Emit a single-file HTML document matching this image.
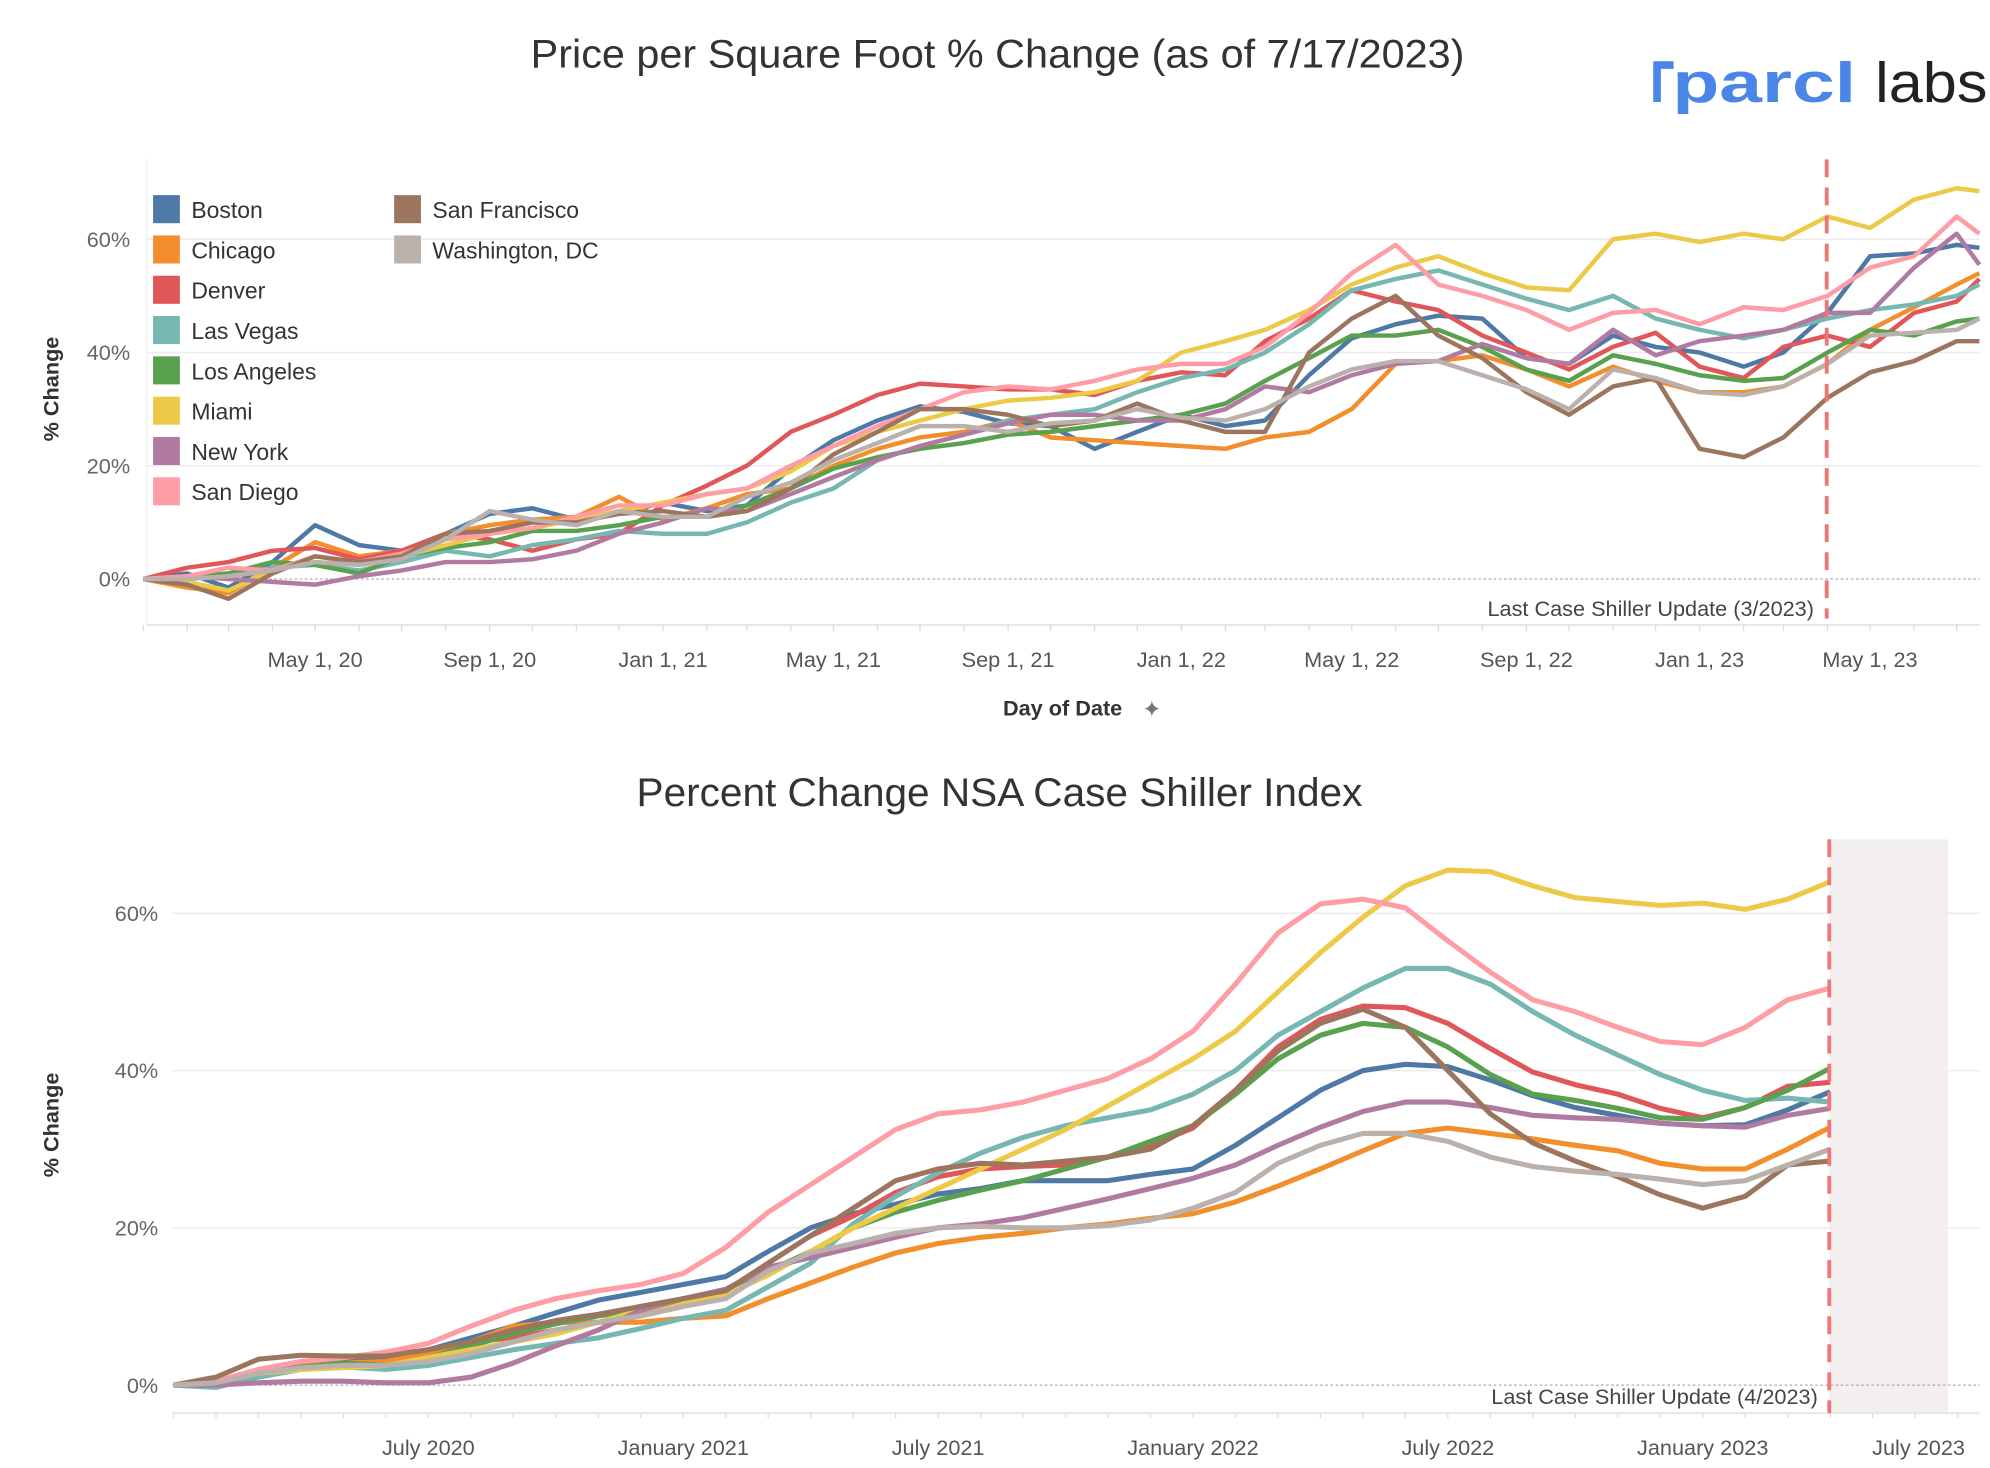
<!DOCTYPE html>
<html><head><meta charset="utf-8"><style>
html,body{margin:0;padding:0;background:#fff;}
svg{display:block;font-family:"Liberation Sans",sans-serif;}
</style></head><body>
<svg id="root" width="1990" height="1468" viewBox="0 0 1560 1151" preserveAspectRatio="none" xmlns="http://www.w3.org/2000/svg">
<rect x="0" y="0" width="1560" height="1151" fill="#fff"/>
<text x="416" y="53" textLength="732" lengthAdjust="spacingAndGlyphs" font-size="31" fill="#333">Price per Square Foot % Change (as of 7/17/2023)</text>
<g>
<path d="M1296 48 h16 v6 h-10 v26 h-6 z" fill="#4a86e8"/>
<text x="1311" y="80" font-size="44" font-weight="bold" fill="#4a86e8" textLength="144" lengthAdjust="spacingAndGlyphs">parcl</text>
<text x="1470" y="80" font-size="44" fill="#222" textLength="88" lengthAdjust="spacingAndGlyphs">labs</text>
</g>
<g id="topChart"></g>
<text x="499" y="632" textLength="569" lengthAdjust="spacingAndGlyphs" font-size="31" fill="#333">Percent Change NSA Case Shiller Index</text>
<g id="botChart"></g>
</svg>
<script>
const cities = ["Boston","Chicago","Denver","Las Vegas","Los Angeles","Miami","New York","San Diego","San Francisco","Washington, DC"];
const colors = ["#4e79a7","#f28e2b","#e15759","#76b7b2","#59a14f","#edc948","#b07aa1","#ff9da7","#9c755f","#bab0ac"];
// Top chart: monthly samples Jan 2020 .. Jul 2023 plus Jul 17 2023
const topBoston = [0,1,-1.5,3,9.5,6,5,8,11.5,12.5,10.5,11.5, 13.5,12,13,19.5,24.5,28,30.5,29.5,27.5,27,23,26, 29,27,28,36,42.5,45,46.5,46,39,38,43,41, 40,37.5,40,47,57,57.5,59,58.5];
const topChicago = [0,-1.5,-2.5,2,6.5,4,5,8,9.5,10.5,11,14.5, 10.5,12.5,15,16,20,23,25,26,28,25,24.5,24, 23.5,23,25,26,30,38,38.5,39.5,37,34,37.5,35, 33,33,34,38,44,48,52,54];
const topDenver = [0,2,3,5,5.5,3.5,5,8,7,5,7,8, 13,16.5,20,26,29,32.5,34.5,34,33.5,33.5,32.5,35, 36.5,36,42,46,51,49,47.5,43,40,37,41,43.5, 37.5,35.5,41,43,41,47,49,53];
const topLasVegas = [0,0,0.5,2,2.5,1.5,3,5,4,6,7,8.5, 8,8,10,13.5,16,21,23.5,25.5,28,29,30,33, 35.5,37,40,45,51,53,54.5,52,49.5,47.5,50,46, 44,42.5,44,46,47.5,48.5,50,52];
const topLosAngeles = [0,0.5,1,3,2.5,1,4,5.5,6.5,8.5,8.5,9.5, 11,11,13,16,19.5,21.5,23,24,25.5,26,27,28, 29,31,35,39,43,43,44,41,37,35,39.5,38, 36,35,35.5,40,44,43,45.5,46];
const topMiami = [0,-0.5,-2,1.5,3,2.5,4,6,8,9,10.5,12, 13.5,15,16,19,23.5,26,28,30,31.5,32,33,35, 40,42,44,47.5,52,55,57,54,51.5,51,60,61, 59.5,61,60,64,62,67,69,68.5];
const topNewYork = [0,0.5,0,-0.5,-1,0.5,1.5,3,3,3.5,5,8, 10,12.5,12,15,18,21,23.5,25.5,27.5,29,29,28, 28,30,34,33,36,38,38.5,41.5,39,38,44,39.5, 42,43,44,47,47,55,61,55.5];
const topSanDiego = [0,0.5,2,1.5,4,3,4.5,7,8,9,11,13, 13,15,16,20,23.5,27,30,33,34,33.5,35,37, 38,38,41,47,54,59,52,50,47.5,44,47,47.5, 45,48,47.5,50,55,57,64,61];
const topSanFrancisco = [0,-1,-3.5,1,4,3,4,8,8.5,10,10,11.5, 12,11,12,16,22,26,30,30,29,27,28,31, 28,26,26,40,46,50,43,39,33,29,34,35.5, 23,21.5,25,32,36.5,38.5,42,42];
const topWashington = [0,0,0.5,1.5,3,2.5,3.5,7,12,10.5,9.5,12, 11,11,14.5,17,21,24,27,27,26,27.5,28,30, 28.5,28,30,34,37,38.5,38.5,36,33.5,30,37,35.5, 33,32.5,34,38,43,43.5,44,46];
const topSeries = [topBoston,topChicago,topDenver,topLasVegas,topLosAngeles,topMiami,topNewYork,topSanDiego,topSanFrancisco,topWashington];
const topYTicks = [0,20,40,60];
const topYTickLabels = ["0%","20%","40%","60%"];
const topXTickLabels = ["May 1, 20","Sep 1, 20","Jan 1, 21","May 1, 21","Sep 1, 21","Jan 1, 22","May 1, 22","Sep 1, 22","Jan 1, 23","May 1, 23"];
const topXTickDays = [121,244,366,486,609,731,851,974,1096,1216];
// Bottom chart: monthly Jan 2020 .. Apr 2023
const botBoston = [0,0,1.8,2.8,3.2,3.5,4.5,6,7.5,9.2,10.8,11.8,12.8,13.8,17,20,21.8,23,24.3,25,26,26,26,26.8,27.5,30.5,34,37.5,40,40.8,40.5,38.8,36.8,35.3,34.3,33.3,33,33.1,35,37.3];
const botChicago = [0,0.2,1.5,2.5,2.8,3,4,5.5,7.5,8,8,8,8.5,8.8,11,13,15,16.8,18,18.8,19.3,20,20.5,21.2,21.8,23.3,25.3,27.5,29.8,32,32.7,32,31.3,30.5,29.8,28.2,27.5,27.5,30,32.8];
const botDenver = [0,0.3,1.8,3,3.5,3.8,4.5,5.5,6,7,8,8.8,10,12,15.5,19,21.5,24.5,26.5,27.5,27.8,28,29,30.5,32.7,37.5,43,46.5,48.2,48,46,42.8,39.8,38.2,37,35.2,34,35.3,38,38.5];
const botLasVegas = [0,-0.3,1,2,2.3,2,2.5,3.5,4.5,5.3,6,7.2,8.5,9.5,12.5,15.5,20.5,24,27,29.5,31.5,33,34,35,37,40,44.5,47.5,50.5,53,53,51,47.5,44.5,42,39.5,37.5,36.2,36.5,36];
const botLosAngeles = [0,0.5,1.5,2.3,2.8,2.5,3.5,5,6.5,7.8,8.8,9.5,10.5,12,14.5,17,20,22,23.5,24.8,26,27.5,29,31,33,37,41.5,44.5,46,45.5,43,39.5,37,36.2,35.2,34,33.8,35.3,37.5,40.3];
const botMiami = [0,0.5,1.5,2,2.2,2.5,3.5,4.5,5.5,6.5,8,9.5,10.5,11.5,14,17,20,22.5,25,27.5,30,32.5,35.5,38.5,41.5,45,50,55,59.5,63.5,65.5,65.3,63.5,62,61.5,61,61.3,60.5,61.8,64];
const botNewYork = [0,0,0.3,0.5,0.5,0.3,0.3,1,2.8,5,7,9.5,11,12.2,15,16.2,17.5,18.8,20,20.5,21.3,22.5,23.7,25,26.3,28,30.5,32.8,34.8,36,36,35.3,34.3,34,33.8,33.3,33,32.8,34.3,35.2];
const botSanDiego = [0,0.5,2,3,3.5,4.2,5.3,7.5,9.5,11,12,12.8,14.2,17.5,22,25.5,29,32.5,34.5,35,36,37.5,39,41.5,45,51,57.5,61.2,61.8,60.7,56.5,52.5,49,47.5,45.5,43.7,43.3,45.5,49,50.5];
const botSanFrancisco = [0,1,3.3,3.8,3.7,3.7,4.5,5.5,7,8.2,9,10,11,12,15.5,19,22.5,26,27.5,28.2,28,28.5,29,30,33,37.5,42.5,46,47.8,45.5,40,34.5,30.8,28.5,26.5,24.2,22.5,24,28,28.5];
const botWashington = [0,0.3,1.5,2.2,2.5,2.5,3,4,5.5,7,8,8.8,10,11,14.5,16.8,18,19.3,20,20.2,20,20,20.3,21,22.5,24.5,28.2,30.5,32,32,31,29,27.8,27.2,26.8,26.2,25.5,26,28,30];
const botSeries = [botBoston,botChicago,botDenver,botLasVegas,botLosAngeles,botMiami,botNewYork,botSanDiego,botSanFrancisco,botWashington];
const botYTicks = [0,20,40,60];
const botYTickLabels = ["0%","20%","40%","60%"];
const botXTickLabels = ["July 2020","January 2021","July 2021","January 2022","July 2022","January 2023","July 2023"];
const botXTickMonths = [6,12,18,24,30,36,42];

const NS="http://www.w3.org/2000/svg";
function mk(tag,attrs,parent,text){const e=document.createElementNS(NS,tag);for(const k in attrs)e.setAttribute(k,attrs[k]);if(text!==undefined)e.textContent=text;parent.appendChild(e);return e;}

// ---- TOP ----
const topG=document.getElementById('topChart');
const T={x0:115,x1:1552,y0:125,y1:490};
const tx=d=>112.3+d*1.1132;
const ty=v=>454-v*4.44;
function monthDay(i){const d=Date.UTC(2020,i,1);return (d-Date.UTC(2020,0,1))/86400000;}
const topDays=[];for(let i=0;i<43;i++)topDays.push(monthDay(i));topDays.push(1293);
topYTicks.forEach((v,i)=>{
  if(v!==0){const g=mk('line',{x1:T.x0,x2:T.x1,y1:ty(v),y2:ty(v),stroke:'#ececec','stroke-width':1.2},topG);
  
  }
  const t=mk('text',{x:102,y:ty(v)+6,'text-anchor':'end','font-size':17,fill:'#666'},topG,topYTickLabels[i]);
  
  
});
const z1=mk('line',{x1:T.x0,x2:T.x1,y1:ty(0),y2:ty(0),stroke:'#aaa','stroke-width':1,'stroke-dasharray':'2 2'},topG);


const ax1=mk('line',{x1:T.x0,x2:T.x1,y1:T.y1,y2:T.y1,stroke:'#e6e6e6','stroke-width':1.5},topG);


const ay1=mk('line',{x1:T.x0,x2:T.x0,y1:T.y0,y2:T.y1,stroke:'#eee','stroke-width':1},topG);


for(let i=0;i<43;i++){mk('line',{x1:tx(topDays[i]),x2:tx(topDays[i]),y1:T.y1,y2:T.y1+5,stroke:'#ddd','stroke-width':1},topG);}
topXTickLabels.forEach((l,i)=>{
  const t=mk('text',{x:tx(topXTickDays[i]),y:523,'text-anchor':'middle','font-size':17,fill:'#555'},topG,l);
  
  
});
const xt1=mk('text',{x:833,y:561,'text-anchor':'middle','font-size':17,'font-weight':'bold',fill:'#333'},topG,'Day of Date');


const pin=mk('text',{x:903,y:562,'text-anchor':'middle','font-size':18,fill:'#777'},topG,'✦');


const yt1=mk('text',{x:46,y:305,'text-anchor':'middle','font-size':17,'font-weight':'bold',fill:'#333',transform:'rotate(-90 46 305)'},topG,'% Change');


topSeries.forEach((s,k)=>{
  const d=s.map((v,i)=>(i?'L':'M')+tx(topDays[i]).toFixed(1)+' '+ty(v).toFixed(1)).join(' ');
  const p=mk('path',{d:d,fill:'none',stroke:colors[k],'stroke-width':3.5,'stroke-linejoin':'round'},topG);
  
  
});
const dl1=mk('line',{x1:1432,x2:1432,y1:T.y0,y2:485,stroke:'#f07575','stroke-width':3,'stroke-dasharray':'14 8'},topG);


const ml1=mk('text',{x:1422,y:483,'text-anchor':'end','font-size':17,fill:'#444'},topG,'Last Case Shiller Update (3/2023)');


// legend
cities.forEach((c,k)=>{
  const col=k<8?0:1, row=k<8?k:k-8;
  const x=col?309:120, y=153+row*31.6;
  const g=mk('g',{},topG);
  
  
  mk('rect',{x:x,y:y,width:21,height:22,fill:colors[k]},g);
  mk('text',{x:x+30,y:y+18,'font-size':18,fill:'#333'},g,c);
});

// ---- BOTTOM ----
const botG=document.getElementById('botChart');
const B={x0:135,x1:1552,y0:658,y1:1108};
const bx=i=>136+i*33.3;
const by=v=>1086-v*6.165;
const sh=mk('rect',{x:1434,y:B.y0,width:93,height:B.y1-B.y0,fill:'#f4efef'},botG);


botYTicks.forEach((v,i)=>{
  if(v!==0){const g=mk('line',{x1:B.x0,x2:B.x1,y1:by(v),y2:by(v),stroke:'#ececec','stroke-width':1.2},botG);
  
  }
  const t=mk('text',{x:124,y:by(v)+6,'text-anchor':'end','font-size':17,fill:'#666'},botG,botYTickLabels[i]);
  
  
});
const z2=mk('line',{x1:B.x0,x2:B.x1,y1:by(0),y2:by(0),stroke:'#aaa','stroke-width':1,'stroke-dasharray':'2 2'},botG);


const ax2=mk('line',{x1:B.x0,x2:B.x1,y1:B.y1,y2:B.y1,stroke:'#e6e6e6','stroke-width':1.5},botG);


for(let i=0;i<=42;i++){mk('line',{x1:bx(i),x2:bx(i),y1:B.y1,y2:B.y1+4,stroke:'#ddd','stroke-width':1},botG);}
botXTickLabels.forEach((l,i)=>{
  const x=Math.min(bx(botXTickMonths[i]),1504);
  const t=mk('text',{x:x,y:1141,'text-anchor':'middle','font-size':17,fill:'#555'},botG,l);
  
  
});
const yt2=mk('text',{x:46,y:882,'text-anchor':'middle','font-size':17,'font-weight':'bold',fill:'#333',transform:'rotate(-90 46 882)'},botG,'% Change');


botSeries.forEach((s,k)=>{
  const d=s.map((v,i)=>(i?'L':'M')+bx(i).toFixed(1)+' '+by(v).toFixed(1)).join(' ');
  const p=mk('path',{d:d,fill:'none',stroke:colors[k],'stroke-width':4,'stroke-linejoin':'round'},botG);
  
  
});
const dl2=mk('line',{x1:1434,x2:1434,y1:B.y0,y2:B.y1,stroke:'#f07575','stroke-width':3,'stroke-dasharray':'14 8'},botG);


const ml2=mk('text',{x:1425,y:1101,'text-anchor':'end','font-size':17,fill:'#444'},botG,'Last Case Shiller Update (4/2023)');


</script>
</body></html>
